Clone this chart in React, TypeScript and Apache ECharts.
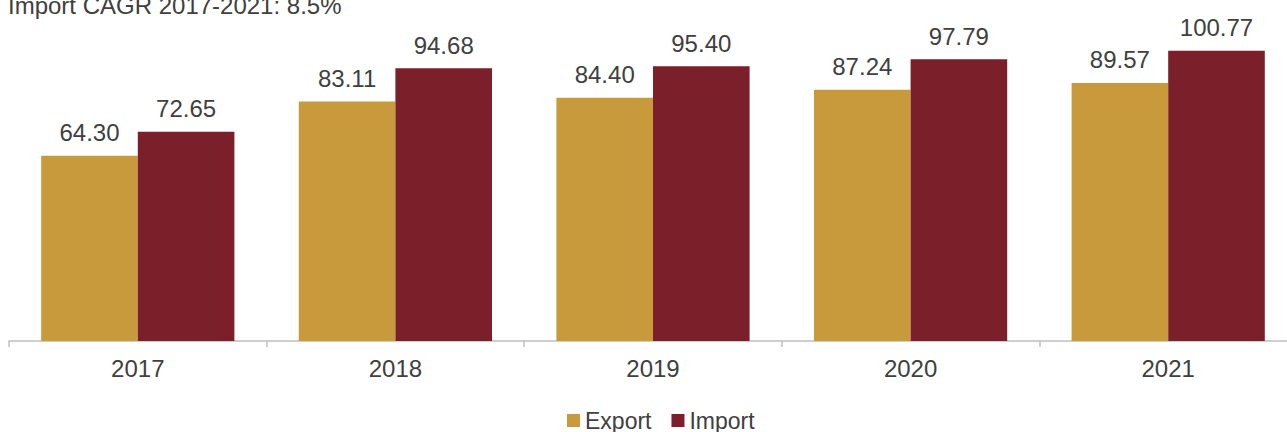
import React, { useEffect, useRef } from "react";
import * as echarts from "echarts";

const years = ["2017", "2018", "2019", "2020", "2021"];
const exportValues = [64.3, 83.11, 84.4, 87.24, 89.57];
const importValues = [72.65, 94.68, 95.4, 97.79, 100.77];
const subtitle = "Import CAGR 2017-2021: 8.5%";

const textColor = "#404040";
const font = "Arial, 'Liberation Sans', sans-serif";

export default function App() {
  const ref = useRef<HTMLDivElement>(null);
  useEffect(() => {
    if (!ref.current) return;
    const chart = echarts.init(ref.current, null, { renderer: "svg" });
    const label = {
      show: true,
      position: "top",
      distance: 11,
      color: textColor,
      fontSize: 24,
      fontFamily: font,
      formatter: (p: any) => Number(p.value).toFixed(2),
    };
    chart.setOption({
      animation: false,
      textStyle: { fontFamily: font },
      graphic: [
        {
          type: "text",
          left: 8,
          top: -7,
          style: {
            text: subtitle,
            fill: textColor,
            fontSize: 24,
            fontFamily: font,
          },
        },
      ],
      legend: {
        left: 562,
        top: 404,
        itemWidth: 13,
        itemHeight: 13,
        itemGap: 20,
        icon: "rect",
        textStyle: { color: textColor, fontSize: 23, fontFamily: font },
        data: ["Export", "Import"],
      },
      grid: {
        left: 9,
        top: 24.1,
        width: 1288,
        height: 316.9,
        outerBoundsMode: "none",
        containLabel: false,
      },
      xAxis: {
        type: "category",
        data: years,
        axisLine: { lineStyle: { color: "#BFBFBF", width: 1.5 } },
        axisTick: { show: true, length: 6, lineStyle: { color: "#BFBFBF", width: 1.5 } },
        axisLabel: { color: textColor, fontSize: 24, margin: 15, fontFamily: font },
      },
      yAxis: {
        type: "value",
        min: 0,
        max: 110,
        show: false,
        splitLine: { show: false },
      },
      series: [
        {
          name: "Export",
          type: "bar",
          data: exportValues,
          barGap: "0%",
          barCategoryGap: "25%",
          itemStyle: { color: "#C99A3B" },
          label,
        },
        {
          name: "Import",
          type: "bar",
          data: importValues,
          barGap: "0%",
          barCategoryGap: "25%",
          itemStyle: { color: "#7B1F2B" },
          label,
        },
      ],
    });
    return () => chart.dispose();
  }, []);
  return <div ref={ref} style={{ width: 1287, height: 432, position: "absolute", left: 0, top: 0 }} />;
}
